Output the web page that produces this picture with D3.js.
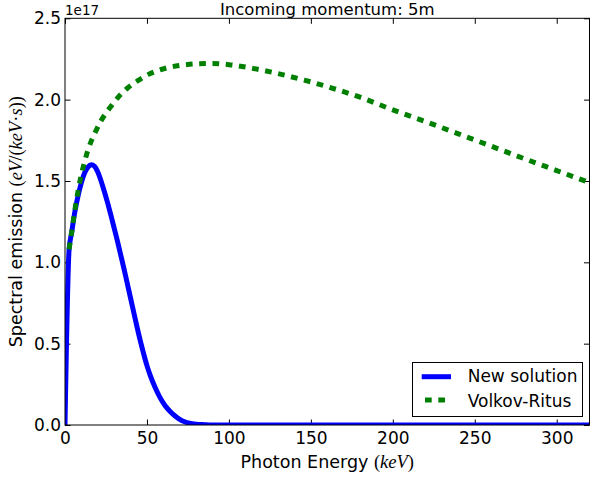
<!DOCTYPE html>
<html>
<head>
<meta charset="utf-8">
<script src="https://cdn.jsdelivr.net/npm/d3@7"></script>
<style>
  body { margin: 0; background: #fff; }
  text { font-family: "DejaVu Sans", sans-serif; fill: #000; }
</style>
</head>
<body>
<div id="chart"></div>
<script>
// values are in units of 1e17 eV/(keV*s)
const SCALE_LABEL = '1e17';

const newSolutionX = [0, 2.5, 4, 6, 8, 10, 12, 14, 16, 18, 20, 22, 24, 26, 28, 30, 32, 34, 36, 38, 40,
  42, 44, 46, 48, 50, 52, 55, 58, 61, 64, 67, 70, 73, 76, 80, 85, 90, 120, 160, 200, 240, 280, 320];
const newSolutionY = [0, 1.08, 1.18, 1.31, 1.41, 1.49, 1.55, 1.585, 1.6, 1.59, 1.555, 1.5, 1.435, 1.365,
  1.29, 1.21, 1.13, 1.045, 0.96, 0.87, 0.78, 0.69, 0.6, 0.515, 0.437, 0.365, 0.305, 0.23, 0.168, 0.12,
  0.085, 0.057, 0.035, 0.02, 0.011, 0.005, 0.002, 0, 0, 0, 0, 0, 0, 0];

const volkovX = [2.5, 4, 6, 8, 10, 12, 14, 16, 18, 22, 27, 32, 38, 45, 52, 62, 70, 80, 90, 100, 112,
  121, 130, 146, 160, 180, 200, 220, 240, 260, 280, 300, 320];
const volkovY = [1.08, 1.18, 1.32, 1.44, 1.54, 1.62, 1.69, 1.745, 1.79, 1.87, 1.945, 2.01, 2.07, 2.12,
  2.16, 2.195, 2.21, 2.22, 2.222, 2.215, 2.197, 2.18, 2.16, 2.12, 2.08, 2.015, 1.937, 1.865, 1.79,
  1.714, 1.638, 1.564, 1.49];

const xTicks = [0, 50, 100, 150, 200, 250, 300];
const yTicks = [0, 0.5, 1.0, 1.5, 2.0, 2.5];

const series = [
  { name: 'New solution', xs: newSolutionX, ys: newSolutionY, color: '#0000ff', dash: null },
  { name: 'Volkov-Ritus', xs: volkovX, ys: volkovY, color: '#008000', dash: '6.7,6.6' }
];

const width = 590, height = 478;
const plot = { left: 65, right: 589.5, top: 18.3, bottom: 425 };

const svg = d3.select('#chart').append('svg')
  .attr('width', width)
  .attr('height', height);

const x = d3.scaleLinear().domain([0, 320]).range([plot.left, plot.right]);
const y = d3.scaleLinear().domain([0, 2.5]).range([plot.bottom, plot.top]);

svg.append('defs').append('clipPath')
  .attr('id', 'clip')
  .append('rect')
  .attr('x', plot.left).attr('y', plot.top)
  .attr('width', plot.right - plot.left)
  .attr('height', plot.bottom - plot.top);

// axes, ticks point inward
const tickLen = 5.5;
const styleAxis = (g) => {
  g.select('.domain').remove();
  g.selectAll('.tick line').attr('stroke', '#000');
  g.selectAll('.tick text').style('font-size', '17px').style('font-family', '"DejaVu Sans", sans-serif');
  return g;
};

svg.append('g')
  .attr('transform', `translate(0,${plot.bottom})`)
  .call(d3.axisBottom(x).tickValues(xTicks).tickFormat(d3.format('d')).tickSizeInner(-tickLen).tickSizeOuter(0).tickPadding(7))
  .call(styleAxis);

svg.append('g')
  .attr('transform', `translate(0,${plot.top})`)
  .call(d3.axisTop(x).tickValues(xTicks).tickFormat('').tickSizeInner(-tickLen).tickSizeOuter(0))
  .call(styleAxis);

svg.append('g')
  .attr('transform', `translate(${plot.left},0)`)
  .call(d3.axisLeft(y).tickValues(yTicks).tickFormat(d3.format('.1f')).tickSizeInner(-tickLen).tickSizeOuter(0).tickPadding(4))
  .call(styleAxis);

svg.append('g')
  .attr('transform', `translate(${plot.right},0)`)
  .call(d3.axisRight(y).tickValues(yTicks).tickFormat('').tickSizeInner(-tickLen).tickSizeOuter(0))
  .call(styleAxis);

// lines
const line = d3.line()
  .x(d => x(d[0]))
  .y(d => y(d[1]))
  .curve(d3.curveMonotoneX);

const lines = svg.append('g').attr('clip-path', 'url(#clip)');
series.forEach(s => {
  lines.append('path')
    .datum(s.xs.map((v, i) => [v, s.ys[i]]))
    .attr('d', line)
    .attr('fill', 'none')
    .attr('stroke', s.color)
    .attr('stroke-width', 5)
    .attr('stroke-linejoin', 'round')
    .attr('stroke-dasharray', s.dash);
});

// frame
svg.append('rect')
  .attr('x', plot.left).attr('y', plot.top)
  .attr('width', plot.right - plot.left)
  .attr('height', plot.bottom - plot.top)
  .attr('fill', 'none')
  .attr('stroke', '#000')
  .attr('stroke-width', 1);

// title and offset label
svg.append('text')
  .attr('x', (plot.left + plot.right) / 2)
  .attr('y', 14.5)
  .attr('text-anchor', 'middle')
  .style('font-size', '16.5px')
  .text('Incoming momentum: 5m');

svg.append('text')
  .attr('x', plot.left)
  .attr('y', 15)
  .style('font-size', '13.5px')
  .text(SCALE_LABEL);

// math-ish labels: letters in italic serif, punctuation upright
const addParts = (textSel, parts) => {
  parts.forEach(p => {
    textSel.append('tspan')
      .style('font-family', p.math ? '"Liberation Serif", serif' : '"DejaVu Sans", sans-serif')
      .style('font-style', p.italic ? 'italic' : 'normal')
      .style('font-size', p.math ? '18.5px' : '17.5px')
      .text(p.t);
  });
};

const xLabel = svg.append('text')
  .attr('x', (plot.left + plot.right) / 2)
  .attr('y', 468)
  .attr('text-anchor', 'middle');
addParts(xLabel, [
  { t: 'Photon Energy ' },
  { t: '(', math: true },
  { t: 'keV', math: true, italic: true },
  { t: ')', math: true }
]);

const yLabel = svg.append('text')
  .attr('transform', `translate(21.7,${(plot.top + plot.bottom) / 2}) rotate(-90)`)
  .attr('text-anchor', 'middle');
addParts(yLabel, [
  { t: 'Spectral emission ' },
  { t: '(', math: true },
  { t: 'eV', math: true, italic: true },
  { t: '/(', math: true },
  { t: 'keV', math: true, italic: true },
  { t: '\u00b7', math: true },
  { t: 's', math: true, italic: true },
  { t: '))', math: true }
]);

// legend
const legend = svg.append('g');
legend.append('rect')
  .attr('x', 412.5).attr('y', 362.5)
  .attr('width', 170).attr('height', 54)
  .attr('fill', '#fff')
  .attr('stroke', '#000')
  .attr('stroke-width', 1);

const legendRows = [
  { s: series[0], y: 376.7, x1: 421.7, x2: 451, ty: 382 },
  { s: series[1], y: 400, x1: 425, x2: 445, ty: 406.5 }
];
legendRows.forEach(r => {
  legend.append('line')
    .attr('x1', r.x1).attr('x2', r.x2)
    .attr('y1', r.y).attr('y2', r.y)
    .attr('stroke', r.s.color)
    .attr('stroke-width', 5)
    .attr('stroke-dasharray', r.s.dash);
  legend.append('text')
    .attr('x', 467.7)
    .attr('y', r.ty)
    .style('font-size', '17px')
    .text(r.s.name);
});
</script>
</body>
</html>
